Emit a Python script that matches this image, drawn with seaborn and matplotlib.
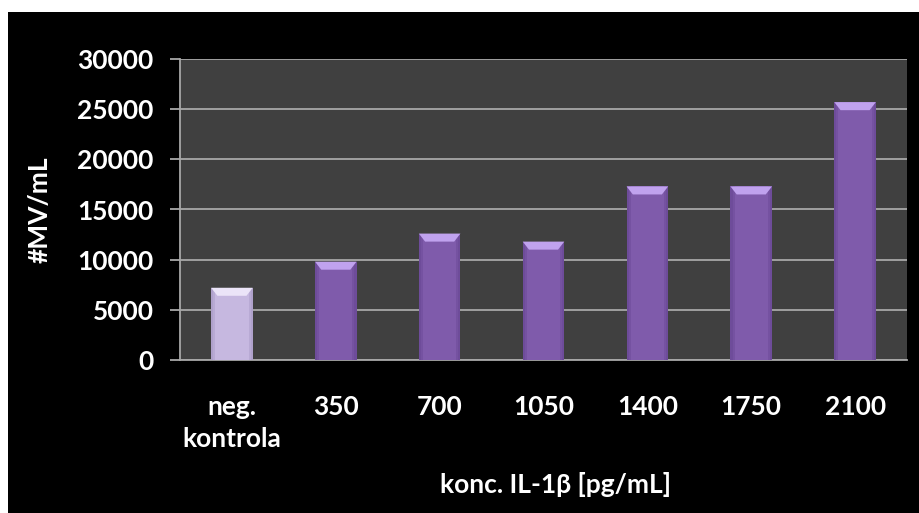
import numpy as np
import pandas as pd
import matplotlib
matplotlib.use("Agg")
import matplotlib.pyplot as plt
from matplotlib.patches import Rectangle, Polygon
import seaborn as sns

categories = ["neg.\nkontrola", "350", "700", "1050", "1400", "1750", "2100"]
mv_per_ml = [7200, 9800, 12600, 11800, 17300, 17300, 25700]
y_ticks = [0, 5000, 10000, 15000, 20000, 25000, 30000]
y_tick_labels = ["0", "5000", "10000", "15000", "20000", "25000", "30000"]

sns.set_theme(style="dark")
plt.rcParams["font.family"] = ["Lato", "DejaVu Sans"]

df = pd.DataFrame({"konc": categories, "mv": mv_per_ml})
bar_colors = ["#c6b8e0"] + ["#7f5bab"] * (len(categories) - 1)

fig = plt.figure(figsize=(9.2, 5.13), dpi=100)
fig.patch.set_facecolor("white")
fig.patches.append(Rectangle((8 / 920, 0), 1 - 8 / 920, 1 - 12 / 513,
                             transform=fig.transFigure, facecolor="black",
                             edgecolor="none", zorder=-10))

ax = fig.add_axes([180 / 920, 153 / 513, 727 / 920, 301 / 513])
ax.set_facecolor("#404040")

sns.barplot(data=df, x="konc", y="mv", hue="konc", palette=bar_colors,
            width=0.4, legend=False, ax=ax, zorder=3, saturation=1)

# bevelled top and darker side edges on each bar
for patch, base in zip(list(ax.patches), bar_colors):
    x0, w, h = patch.get_x(), patch.get_width(), patch.get_height()
    patch.set_edgecolor("none")
    bevel = 800
    pale = base == "#c6b8e0"
    light = "#ebe4f8" if pale else "#c0a2ee"
    side = "#a99bc6" if pale else "#6a4896"
    for frac, a in ((0.10, 0.45), (0.05, 0.6)):
        ax.add_patch(Rectangle((x0, 0), w * frac, h, facecolor=side,
                               edgecolor="none", zorder=4, alpha=a))
        ax.add_patch(Rectangle((x0 + w * (1 - frac), 0), w * frac, h,
                               facecolor=side, edgecolor="none", zorder=4,
                               alpha=a))
    ax.add_patch(Polygon([(x0, h), (x0 + w, h), (x0 + w * 0.85, h - bevel),
                          (x0 + w * 0.15, h - bevel)], closed=True,
                         facecolor=light, edgecolor="none", zorder=5))

ax.set_ylim(0, 30000)
ax.set_xlim(-0.5, len(categories) - 0.5)
ax.set_yticks(y_ticks)
ax.set_yticklabels(y_tick_labels)
ax.yaxis.grid(True, color="#a8a8a8", linewidth=1.3, zorder=1)
ax.xaxis.grid(False)
ax.set_axisbelow(True)

for name, sp in ax.spines.items():
    if name in ("left", "bottom"):
        sp.set_visible(True)
        sp.set_color("#a8a8a8")
        sp.set_linewidth(1.3)
    else:
        sp.set_visible(False)

ax.tick_params(axis="y", which="major", left=True, length=7, width=1.3,
               color="#a8a8a8", pad=12, labelsize=19, labelcolor="white")
ax.tick_params(axis="x", which="major", bottom=False, pad=19,
               labelsize=19, labelcolor="white")
for lbl in ax.get_xticklabels() + ax.get_yticklabels():
    lbl.set_fontweight("bold")
    lbl.set_linespacing(1.4)

ax.set_xlabel("konc. IL-1β [pg/mL]", color="white", fontsize=19,
              fontweight="bold", va="center")
ax.xaxis.set_label_coords(0.516, -0.415)
ax.set_ylabel("#MV/mL", color="white", fontsize=19, fontweight="bold",
              va="center")
ax.yaxis.set_label_coords(-0.193, 0.5)

fig.savefig("out.png", dpi=100, facecolor=fig.get_facecolor())
